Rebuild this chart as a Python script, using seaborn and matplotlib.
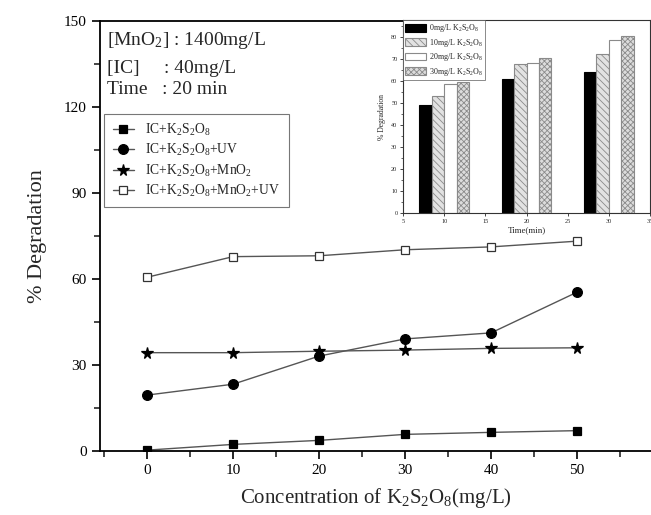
import matplotlib
matplotlib.use("Agg")
import matplotlib.pyplot as plt
import seaborn as sns
import pandas as pd
from matplotlib.ticker import MultipleLocator

# ---- data ----
conc = [0, 10, 20, 30, 40, 50]
ic_ps = [0.3, 2.3, 3.7, 5.8, 6.5, 7.1]
ic_ps_uv = [19.5, 23.3, 33.1, 39.1, 41.2, 55.4]
ic_ps_mn = [34.3, 34.3, 34.8, 35.2, 35.8, 36.0]
ic_ps_mn_uv = [60.6, 67.8, 68.1, 70.2, 71.2, 73.2]

series_labels = [
    r"IC+$\mathregular{K_2S_2O_8}$",
    r"IC+$\mathregular{K_2S_2O_8}$+UV",
    r"IC+$\mathregular{K_2S_2O_8}$+Mn$\mathregular{O_2}$",
    r"IC+$\mathregular{K_2S_2O_8}$+Mn$\mathregular{O_2}$+UV",
]

times = [10, 20, 30]
inset_levels = ["0mg/L", "10mg/L", "20mg/L", "30mg/L"]
inset_0 = [49.0, 60.8, 64.0]
inset_10 = [53.2, 67.8, 72.0]
inset_20 = [58.4, 68.2, 78.5]
inset_30 = [59.3, 70.2, 80.3]

sns.set_style("ticks")
plt.rcParams["font.family"] = ["Liberation Serif", "DejaVu Serif"]
plt.rcParams["mathtext.fontset"] = "custom"
plt.rcParams["mathtext.rm"] = "Liberation Serif"
plt.rcParams["mathtext.it"] = "Liberation Serif:italic"
plt.rcParams["hatch.linewidth"] = 0.6

fig = plt.figure(figsize=(6.51, 5.15), dpi=100)
ax = fig.add_axes([100/651, 64/515, 551/651, 430/515])

series = [ic_ps, ic_ps_uv, ic_ps_mn, ic_ps_mn_uv]
markers = ["s", "o", "*", "s"]
msizes = [6.2, 7, 8.5, 6.2]
faces = ["black", "black", "black", "white"]
for vals, lab, mk, ms, fc in zip(series, series_labels, markers, msizes, faces):
    sns.lineplot(x=conc, y=vals, ax=ax, color="#555555", linewidth=1.0,
                 marker=mk, markersize=ms, markerfacecolor=fc,
                 markeredgecolor="black" if fc == "black" else "#333333",
                 markeredgewidth=0.9, label=lab)

ax.set_xlim(-5.47, 58.6)
ax.set_ylim(0, 150)
ax.xaxis.set_major_locator(MultipleLocator(10))
ax.xaxis.set_minor_locator(MultipleLocator(5))
ax.yaxis.set_major_locator(MultipleLocator(30))
ax.yaxis.set_minor_locator(MultipleLocator(15))
ax.set_xticks([0, 10, 20, 30, 40, 50])
ax.tick_params(axis="both", which="major", direction="out", length=6, width=1.2,
               labelsize=11, colors="black")
ax.tick_params(axis="both", which="minor", direction="out", length=4, width=1.2)
for s in ["left", "bottom", "top"]:
    ax.spines[s].set_linewidth(1.3)
    ax.spines[s].set_color("black")
ax.spines["right"].set_visible(False)
ax.set_xlabel(r"Concentration of $\mathregular{K_2S_2O_8}$(mg/L)", fontsize=15, labelpad=6)
ax.set_ylabel("% Degradation", fontsize=16, labelpad=12)

ax.text(0.012, 0.955, r"[Mn$\mathregular{O_2}$] : 1400mg/L", transform=ax.transAxes,
        fontsize=14, va="center", ha="left")
ax.text(0.012, 0.89, "[IC]     : 40mg/L", transform=ax.transAxes,
        fontsize=14, va="center", ha="left")
ax.text(0.012, 0.84, "Time   : 20 min", transform=ax.transAxes,
        fontsize=14, va="center", ha="left")

leg = ax.legend(loc="upper left", bbox_to_anchor=(0.008, 0.784), fontsize=9.8,
                frameon=True, fancybox=False, edgecolor="#555555",
                handlelength=1.6, borderpad=0.6, labelspacing=0.3, borderaxespad=0.0)
leg.get_frame().set_linewidth(0.8)

# ---- inset ----
ins = fig.add_axes([403/651, 302/515, 247/651, 193/515])
df = pd.DataFrame({
    "time": times * 4,
    "deg": inset_0 + inset_10 + inset_20 + inset_30,
    "conc": sum([[lv] * 3 for lv in inset_levels], []),
})
pal = {"0mg/L": "black", "10mg/L": "#e2e2e2", "20mg/L": "white", "30mg/L": "#dcdcdc"}
sns.barplot(data=df, x="time", y="deg", hue="conc", native_scale=True, width=0.6,
            palette=pal, ax=ins, errorbar=None, legend=False, saturation=1)
hatches = [None, "\\\\\\\\\\", None, "xxxxxx"]
edges = ["black", "#8a8a8a", "#8a8a8a", "#8a8a8a"]
for cont, h, ec in zip(ins.containers, hatches, edges):
    for bar in cont:
        bar.set_edgecolor(ec)
        bar.set_linewidth(0.8)
        if h:
            bar.set_hatch(h)
ins_labels = [lv + r" $\mathregular{K_2S_2O_8}$" for lv in inset_levels]
ileg = ins.legend(handles=list(ins.containers), labels=ins_labels, loc="upper left",
                  fontsize=5.8, frameon=True, fancybox=False, edgecolor="#555555",
                  borderpad=0.3, labelspacing=0.3, handlelength=2.6, handleheight=1.1,
                  handletextpad=0.3, borderaxespad=0.0)
ileg.get_frame().set_linewidth(0.6)
ins.set_xlim(5, 35)
ins.set_ylim(0, 87.6)
ins.xaxis.set_major_locator(MultipleLocator(5))
ins.yaxis.set_major_locator(MultipleLocator(10))
ins.yaxis.set_minor_locator(MultipleLocator(5))
ins.tick_params(axis="both", which="major", direction="out", length=2.5, width=0.6,
                labelsize=4.5, pad=1.5)
ins.tick_params(axis="y", which="minor", direction="out", length=1.5, width=0.5)
for s in ins.spines.values():
    s.set_linewidth(0.8)
    s.set_color("#333333")
ins.set_xlabel("Time(min)", fontsize=6.5, labelpad=2)
ins.set_ylabel("% Degradation", fontsize=5.5, labelpad=4)

fig.savefig("out.png", dpi=100)
